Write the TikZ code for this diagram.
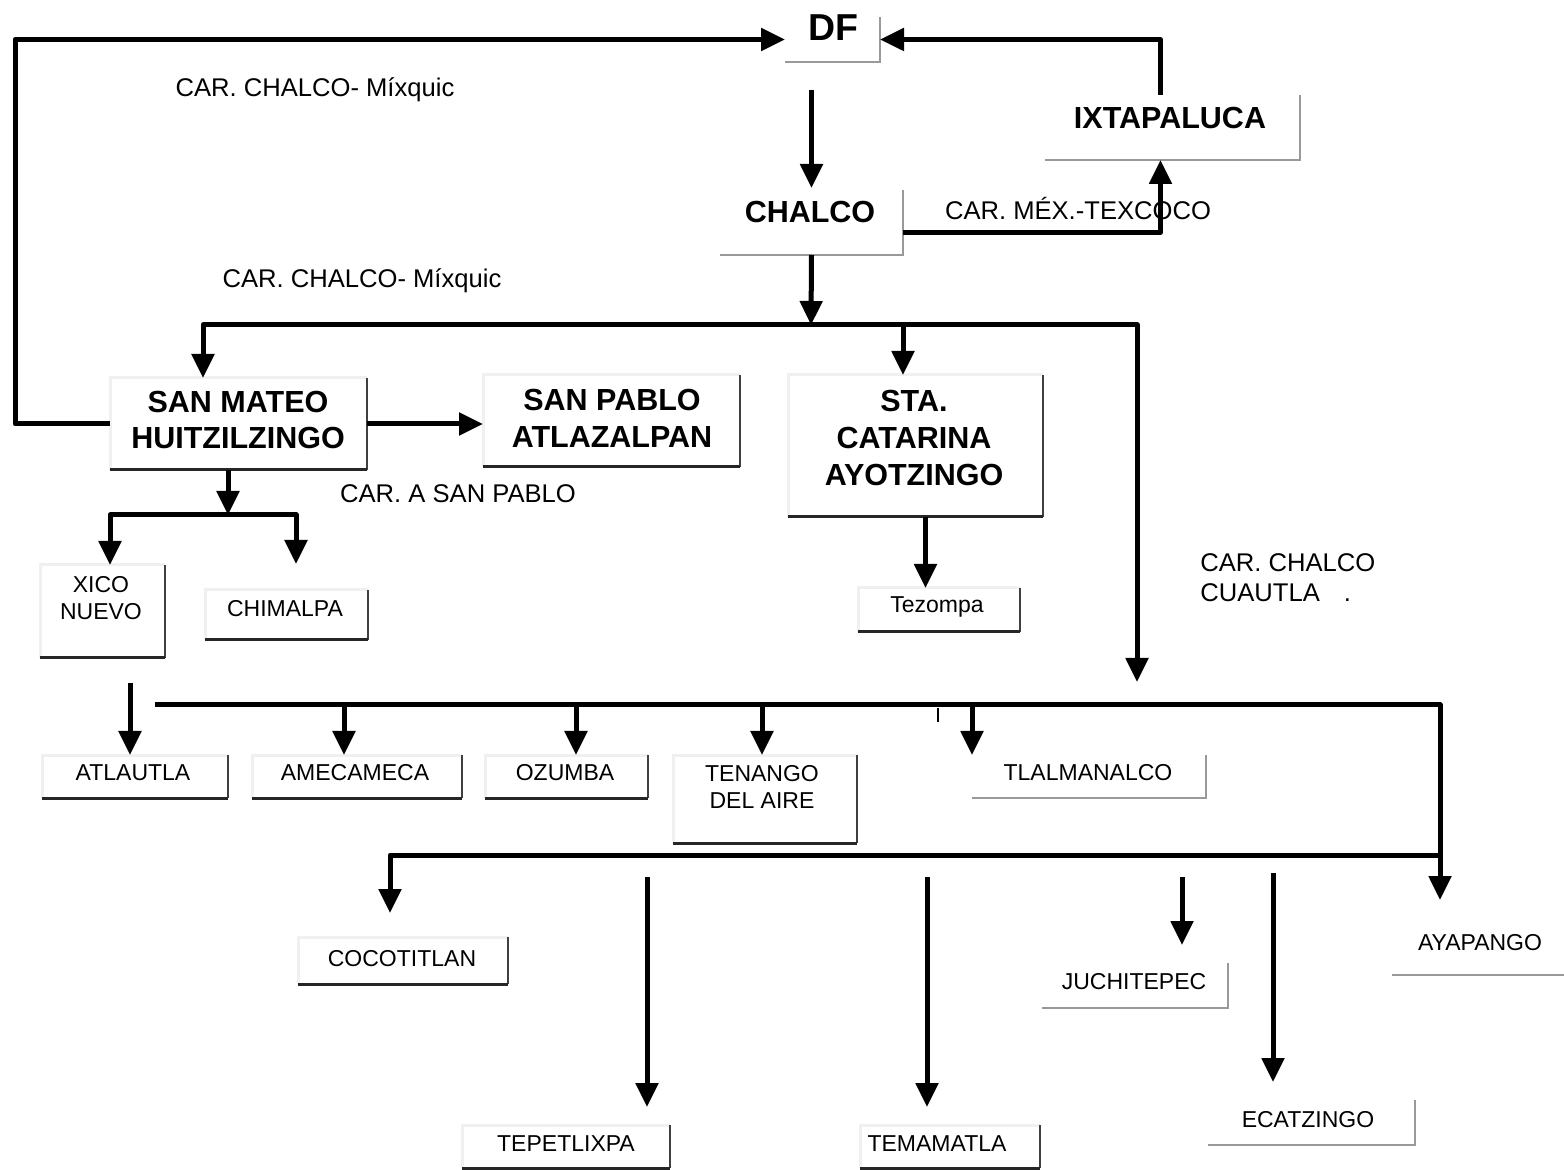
\documentclass[tikz,border=0pt]{standalone}
\usepackage{fontspec}
\setmainfont{Liberation Sans}
\usetikzlibrary{arrows.meta,calc}
% box frame: #1 name, #2 left, #3 top, #4 right, #5 bottom
\newcommand\mkbox[5]{%
  \node[box, minimum width={(#4-#2)*0.5pt}, minimum height={(#5-#3)*0.5pt}]
    (#1) at ({(#2+#4)/2},{(#3+#5)/2}) {};}
\begin{document}
\begin{tikzpicture}[x=0.5pt,y=-0.5pt,
  conn/.style={line width=2.5pt, line join=round},
  arr/.style={conn, -{Triangle[length=12pt,width=11pt]}},
  box/.style={rectangle, inner sep=0pt, outer sep=0pt},
  dkright/.style={black!75, line width=1pt},
  dkbottom/.style={black!85, line width=1.5pt},
  ltedge/.style={black!40, line width=0.7pt},
  faint/.style={black!6, line width=1.5pt},
  huge/.style={font=\bfseries\fontsize{18.75}{22}\selectfont, inner sep=0pt},
  big/.style={font=\bfseries\fontsize{15.25}{18.4}\selectfont, align=center, inner sep=0pt},
  small/.style={font=\fontsize{11.5}{13.5}\selectfont, align=center, inner sep=0pt},
  road/.style={font=\fontsize{12.8}{15}\selectfont, inner sep=0pt},
]
\useasboundingbox (0,0) rectangle (1564,1170);

% ---- box frames ----
\mkbox{df}{785}{17}{880}{62}
\mkbox{ixt}{1045}{95}{1300}{160}
\mkbox{chalco}{720}{190}{903}{255}
\mkbox{smh}{110}{378}{367}{470}
\mkbox{spa}{483}{375}{740}{467}
\mkbox{stc}{788}{375}{1043}{517}
\mkbox{tez}{858}{588}{1020}{632}
\mkbox{xico}{40}{565}{165}{658}
\mkbox{chim}{205}{590}{368}{640}
\mkbox{atl}{42}{755}{228}{798}
\mkbox{ame}{252}{755}{462}{798}
\mkbox{ozu}{485}{755}{648}{798}
\mkbox{ten}{673}{755}{857}{843}
\mkbox{tla}{972}{755}{1206}{798}
\mkbox{coco}{298}{937}{508}{984}
\mkbox{tep}{462}{1125}{670}{1168}
\mkbox{tem}{860}{1125}{1040}{1168}
\mkbox{juch}{1042}{963}{1228}{1008}
\mkbox{eca}{1208}{1100}{1415}{1145}
\mkbox{aya}{1392}{920}{1580}{975}

% frame edges: shadowed right and bottom sides
\foreach \n in {smh,spa,stc,tez,xico,chim,atl,ame,ozu,ten,coco,tep,tem}{
  \draw[faint] (\n.south west) -- (\n.north west) -- (\n.north east);
  \draw[dkright] (\n.north east) -- (\n.south east);
  \draw[dkbottom] (\n.south east) -- (\n.south west);
}
\foreach \n in {df,ixt,chalco,juch,eca,tla}{
  \draw[ltedge] (\n.north east) -- (\n.south east) -- (\n.south west);
}
\draw[ltedge] (aya.south east) -- (aya.south west);

% ---- texts ----
\node[huge] (t-df) at (833,28) {DF};
\node[big] (t-ixt) at (1170,118) {IXTAPALUCA};
\node[big] (t-chalco) at (810,212) {CHALCO};
\node[big] (t-smh) at (238,420) {SAN MATEO\\HUITZILZINGO};
\node[big] (t-spa) at (612,418) {SAN PABLO\\ATLAZALPAN};
\node[big] (t-stc) at (914,438) {STA.\\CATARINA\\AYOTZINGO};
\node[small] (t-tez) at (937,607) {Tezompa};
\node[small] (t-xico) at (101,598) {XICO\\NUEVO};
\node[small] (t-chim) at (285,609) {CHIMALPA};
\node[small] (t-atl) at (133,773) {ATLAUTLA};
\node[small] (t-ame) at (355,773) {AMECAMECA};
\node[small] (t-ozu) at (565,773) {OZUMBA};
\node[small] (t-ten) at (762,787) {TENANGO\\DEL AIRE};
\node[small] (t-tla) at (1088,773) {TLALMANALCO};
\node[small] (t-coco) at (402,959) {COCOTITLAN};
\node[small] (t-tep) at (566,1144) {TEPETLIXPA};
\node[small] (t-tem) at (937,1144) {TEMAMATLA};
\node[small] (t-juch) at (1134,982) {JUCHITEPEC};
\node[small] (t-eca) at (1308,1120) {ECATZINGO};
\node[small] (t-aya) at (1480,943) {AYAPANGO};

% road labels
\node[road] (r1) at (315,90) {CAR. CHALCO- Míxquic};
\node[road] (r2) at (362,281) {CAR. CHALCO- Míxquic};
\node[road] (r3) at (1078,209) {CAR. MÉX.-TEXCOCO};
\node[road] (r4) at (458,494) {CAR. A SAN PABLO};
\node[road, align=left, anchor=west] (r5) at (1200,578)
  {CAR. CHALCO\\CUAUTLA\hspace{12pt}.};

% ---- connectors ----
% loop back to DF
\draw[arr] (smh.west) -- ++(-95,0) |- (df.west);
\draw[arr] ([xshift=-6pt]ixt.north) |- (df.east);
\draw[arr, shorten <=14pt, shorten >=1pt] (df.south -| chalco.north) -- (chalco.north);
\draw[arr] ([yshift=-5pt]chalco.east) -| ([xshift=-6pt]ixt.south);

% distribution from CHALCO
\coordinate (hub) at (811,325);
\coordinate (jS) at (203,325);
\coordinate (jC) at (903,325);
\coordinate (jR) at (1137,325);
\coordinate (cR) at (1137,682);
\draw[arr] (hub) -- (jS) -- (jS |- smh.north);
\draw[arr] (hub) -- (jR) -- (cR);
\draw[arr] (jC) -- (jC |- stc.north);
\draw[arr] (chalco.south) -- (hub);

\draw[arr] (smh.east) -- (smh.east -| spa.west);
\draw[arr] ([xshift=5pt]stc.south) -- ([xshift=5pt]stc.south |- tez.north);

% branch below SAN MATEO
\coordinate (j2) at (228,515);
\coordinate (j2l) at (110,515);
\coordinate (j2r) at (296,515);
\draw[arr] (smh.south -| j2) -- (j2);
\draw[arr] (j2) -- (j2l) -- (j2l |- xico.north);
\draw[arr, shorten >=13pt] (j2) -- (j2r) -- (j2r |- chim.north);

% southern roads
\coordinate (a0) at (130,683);
\draw[arr] (a0) -- (a0 |- atl.north);
\coordinate (b2L) at (155,705);
\coordinate (b2R) at (1440,705);
\coordinate (b3R) at (1440,855);
\coordinate (b3L) at (390,855);
\draw[arr, shorten >=10pt] (b2L) -- (b2R) -- (b2R |- aya.north);
\draw[arr, shorten >=12pt] (b3R) -- (b3L) -- (b3L |- coco.north);
\foreach \xx/\n in {344/ame,576/ozu,762/ten,972/tla}{
  \coordinate (d\n) at (\xx,705);
  \draw[arr] (d\n) -- (d\n |- \n.north);
}
\draw[line width=1pt] (938,708) -- (938,722);
\foreach \xx/\yy/\n in {647/877/tep,927/877/tem,1182/877/juch,1273/873/eca}{
  \coordinate (s\n) at (\xx,\yy);
  \draw[arr, shorten >=9pt] (s\n) -- (s\n |- \n.north);
}
\end{tikzpicture}
\end{document}
